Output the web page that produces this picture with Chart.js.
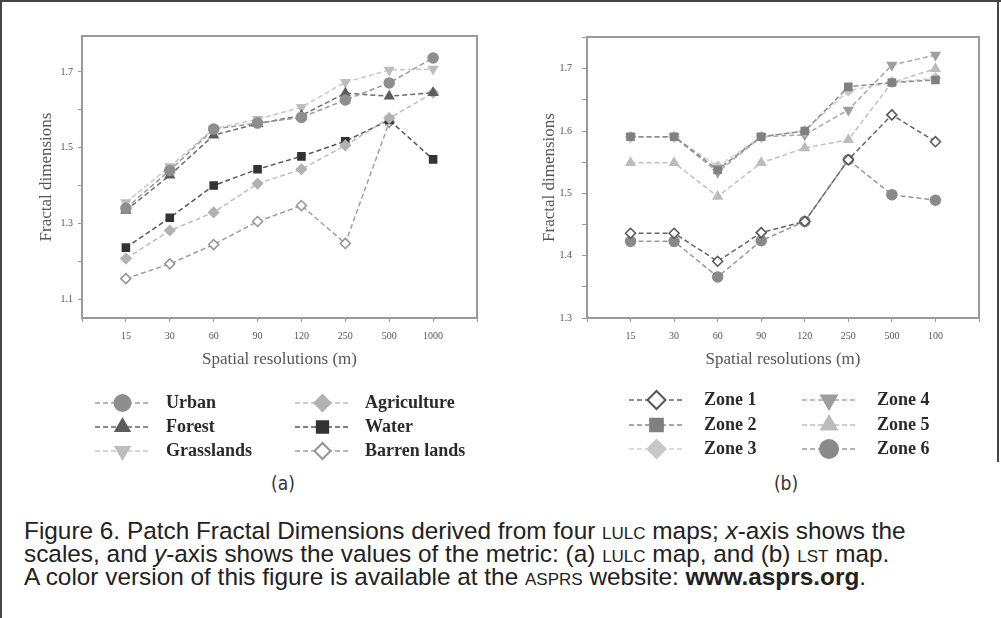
<!DOCTYPE html>
<html lang="en">
<head>
<meta charset="UTF-8">
<title>Figure 6 - Patch Fractal Dimensions</title>
<script src="https://cdn.jsdelivr.net/npm/chart.js"></script>
<style>
    body {
        margin: 0;
        background: #fff;
        width: 1001px;
        height: 618px;
        position: relative;
        overflow: hidden;
    }
    .rule { position: absolute; background: #444; }
    #wrapA { position: absolute; left: 0; top: 0; }
    #wrapB { position: absolute; left: 500px; top: 0; }
    .panel {
        position: absolute;
        top: 472px;
        font-family: 'DejaVu Sans Condensed', 'DejaVu Sans', sans-serif;
        font-size: 19px;
        color: #333;
        transform: translateX(-50%);
    }
    .cap {
        position: absolute;
        left: 24px;
        font-family: 'Liberation Sans', Arial, sans-serif;
        font-size: 20px;
        line-height: 23px;
        color: #222;
        white-space: nowrap;
    }
    .sc { font-variant: small-caps; }
</style>
</head>
<body>
    <div class="rule" style="left:0;top:0;width:1001px;height:2px;"></div>
    <div class="rule" style="left:0;top:0;width:2px;height:618px;"></div>
    <div class="rule" style="left:997px;top:0;width:2px;height:462px;"></div>

    <div id="wrapA"><canvas id="chartA" width="500" height="470"></canvas></div>
    <div id="wrapB"><canvas id="chartB" width="501" height="470"></canvas></div>

    <div class="panel" style="left:283px;">(a)</div>
    <div class="panel" style="left:786px;">(b)</div>

    <div class="cap" id="cap1" style="top:519px;">Figure 6. Patch Fractal Dimensions derived from four <span class="sc">lulc</span> maps; <i>x</i>-axis shows the</div>
    <div class="cap" style="top:542px;">scales, and <i>y</i>-axis shows the values of the metric: (a) <span class="sc">lulc</span> map, and (b) <span class="sc">lst</span> map.</div>
    <div class="cap" style="top:565px;">A color version of this figure is available at the <span class="sc">asprs</span> website: <b>www.asprs.org</b>.</div>

<script>
    // x positions 1..8 on a 0..9 axis, tick text per panel
    const resPos = [1, 2, 3, 4, 5, 6, 7, 8];
    const resLabelsA = ['15', '30', '60', '90', '120', '250', '500', '1000'];
    const resLabelsB = ['15', '30', '60', '90', '120', '250', '500', '100'];

    // (a) LULC map
    const urban       = [1.340, 1.440, 1.549, 1.565, 1.580, 1.626, 1.671, 1.737];
    const forest      = [1.334, 1.427, 1.533, 1.563, 1.585, 1.644, 1.636, 1.645];
    const grasslands  = [1.355, 1.450, 1.550, 1.575, 1.607, 1.673, 1.705, 1.708];
    const agriculture = [1.207, 1.281, 1.329, 1.405, 1.443, 1.506, 1.578, 1.645];
    const water       = [1.236, 1.315, 1.400, 1.443, 1.477, 1.517, 1.573, 1.469];
    const barren      = [1.154, 1.193, 1.244, 1.305, 1.347, 1.247, 1.567, null];

    // (b) LST map
    const zone1 = [1.436, 1.436, 1.391, 1.437, 1.455, 1.554, 1.626, 1.583];
    const zone2 = [1.591, 1.591, 1.538, 1.591, 1.600, 1.671, 1.678, 1.682];
    const zone3 = [1.591, 1.591, 1.543, 1.591, 1.600, 1.665, 1.678, 1.685];
    const zone4 = [1.591, 1.591, 1.534, 1.591, 1.594, 1.634, 1.706, 1.722];
    const zone5 = [1.549, 1.549, 1.495, 1.549, 1.573, 1.586, 1.678, 1.700];
    const zone6 = [1.423, 1.423, 1.366, 1.424, 1.455, 1.554, 1.498, 1.489];

    const serif = "'Liberation Serif', 'DejaVu Serif', serif";

    // scale the caption font so the first line is as wide as in the print
    (function fitCaption() {
        const target = 882;
        const first = document.getElementById('cap1');
        const size = 20 * target / first.getBoundingClientRect().width;
        document.querySelectorAll('.cap').forEach(el => { el.style.fontSize = size.toFixed(2) + 'px'; });
    })();

    function toPoints(values) {
        return resPos.map((x, i) => ({ x: x, y: values[i] }));
    }

    function series(label, values, line, fill, border, style, rotation) {
        return {
            label: label,
            data: toPoints(values),
            borderColor: line,
            borderWidth: 1.5,
            borderDash: [5, 3],
            pointStyle: style,
            pointRotation: rotation || 0,
            pointRadius: 5,
            pointBackgroundColor: fill,
            pointBorderColor: border,
            pointBorderWidth: 1.5,
            tension: 0
        };
    }

    // plot box around the chart area
    const boxFrame = {
        id: 'boxFrame',
        afterDraw(chart) {
            const { ctx, chartArea: a } = chart;
            ctx.save();
            ctx.strokeStyle = '#9a9a9a';
            ctx.lineWidth = 2;
            ctx.strokeRect(a.left, a.top, a.right - a.left, a.bottom - a.top);
            ctx.restore();
        }
    };

    // legend with dashed line + marker, two columns of three
    const sampleLegend = {
        id: 'sampleLegend',
        afterDraw(chart, args, opts) {
            const ctx = chart.ctx;
            chart.data.datasets.forEach((ds, i) => {
                const col = Math.floor(i / 3), row = i % 3;
                const y = opts.rows[row];
                const [x0, x1] = opts.lines[col];
                const xm = (x0 + x1) / 2;
                ctx.save();
                ctx.strokeStyle = ds.borderColor;
                ctx.lineWidth = 1.5;
                ctx.setLineDash([5, 3]);
                ctx.beginPath();
                ctx.moveTo(x0, y);
                ctx.lineTo(x1, y);
                ctx.stroke();
                ctx.setLineDash([]);
                ctx.fillStyle = ds.pointBackgroundColor;
                ctx.strokeStyle = ds.pointBorderColor;
                ctx.lineWidth = 2;
                Chart.helpers.drawPoint(ctx, {
                    pointStyle: ds.pointStyle,
                    radius: opts.radius,
                    rotation: ds.pointRotation,
                    borderWidth: 2
                }, xm, y);
                ctx.fillStyle = '#2a2a2a';
                ctx.font = 'bold 18px ' + serif;
                ctx.textBaseline = 'middle';
                ctx.textAlign = 'left';
                ctx.fillText(ds.label, opts.text[col], y);
                ctx.restore();
            });
        }
    };

    function makeOptions(cfg) {
        return {
            responsive: false,
            animation: false,
            layout: { padding: { left: cfg.padLeft, top: cfg.padTop, right: cfg.padRight, bottom: cfg.padBottom } },
            plugins: {
                legend: { display: false },
                tooltip: { enabled: false },
                sampleLegend: cfg.legend
            },
            scales: {
                x: {
                    type: 'linear',
                    min: 0,
                    max: 9,
                    afterFit(scale) { scale.height = 56; },
                    grid: { drawOnChartArea: false, tickLength: 4, color: '#999' },
                    border: { display: false },
                    ticks: {
                        stepSize: 1,
                        padding: 8,
                        autoSkip: false,
                        maxRotation: 0,
                        color: '#555',
                        font: { family: serif, size: 10 },
                        callback: (v) => cfg.xLabels[v - 1] || ''
                    },
                    title: {
                        display: true,
                        text: 'Spatial resolutions (m)',
                        color: '#555',
                        font: { family: serif, size: 17 },
                        padding: { top: 4, bottom: 4 }
                    }
                },
                y: {
                    min: cfg.yMin,
                    max: cfg.yMax,
                    afterFit(scale) { scale.width = cfg.yWidth; },
                    grid: { drawOnChartArea: false, tickLength: cfg.tickLen, color: '#999' },
                    border: { display: false },
                    ticks: {
                        stepSize: cfg.yStep,
                        includeBounds: false,
                        padding: cfg.tickPad,
                        color: '#555',
                        font: { family: serif, size: 10 },
                        callback: cfg.yLabel
                    },
                    title: {
                        display: true,
                        text: 'Fractal dimensions',
                        color: '#555',
                        font: { family: serif, size: 17 },
                        padding: 0
                    }
                }
            }
        };
    }

    new Chart(document.getElementById('chartA'), {
        type: 'line',
        data: {
            datasets: [
                series('Urban', urban, '#9a9a9a', '#8e8e8e', '#8e8e8e', 'circle'),
                series('Forest', forest, '#6a6a6a', '#5c5c5c', '#5c5c5c', 'triangle'),
                series('Grasslands', grasslands, '#c8c8c8', '#bdbdbd', '#bdbdbd', 'triangle', 180),
                series('Agriculture', agriculture, '#bcbcbc', '#b2b2b2', '#b2b2b2', 'rectRot'),
                series('Water', water, '#555555', '#333333', '#333333', 'rect'),
                series('Barren lands', barren, '#a0a0a0', '#ffffff', '#949494', 'rectRot')
            ]
        },
        options: makeOptions({
            padLeft: 36, padTop: 36, padRight: 23, padBottom: 96,
            yWidth: 46, yMin: 1.05, yMax: 1.795, yStep: 0.1, tickLen: 4, tickPad: 5,
            xLabels: resLabelsA,
            yLabel: (v) => (Math.round(v * 10) % 2 === 1 ? v.toFixed(1) : ''),
            legend: { rows: [403, 427, 451], lines: [[95, 150], [295, 350]], text: [166, 365], radius: 8 }
        }),
        plugins: [boxFrame, sampleLegend]
    });

    new Chart(document.getElementById('chartB'), {
        type: 'line',
        data: {
            datasets: [
                series('Zone 1', zone1, '#666666', '#ffffff', '#555555', 'rectRot'),
                series('Zone 2', zone2, '#8a8a8a', '#808080', '#808080', 'rect'),
                series('Zone 3', zone3, '#d0d0d0', '#c8c8c8', '#c8c8c8', 'rectRot'),
                series('Zone 4', zone4, '#a8a8a8', '#9e9e9e', '#9e9e9e', 'triangle', 180),
                series('Zone 5', zone5, '#c0c0c0', '#bcbcbc', '#bcbcbc', 'triangle'),
                series('Zone 6', zone6, '#999999', '#8a8a8a', '#8a8a8a', 'circle')
            ]
        },
        options: makeOptions({
            padLeft: 39, padTop: 37, padRight: 22, padBottom: 96,
            yWidth: 48, yMin: 1.3, yMax: 1.751, yStep: 0.05, tickLen: 5, tickPad: 10,
            xLabels: resLabelsB,
            yLabel: (v) => (Math.round(v * 100) % 10 === 0 ? v.toFixed(1) : ''),
            legend: { rows: [400, 425, 449], lines: [[129, 184], [302, 356]], text: [204, 377], radius: 9 }
        }),
        plugins: [boxFrame, sampleLegend]
    });
</script>
</body>
</html>
